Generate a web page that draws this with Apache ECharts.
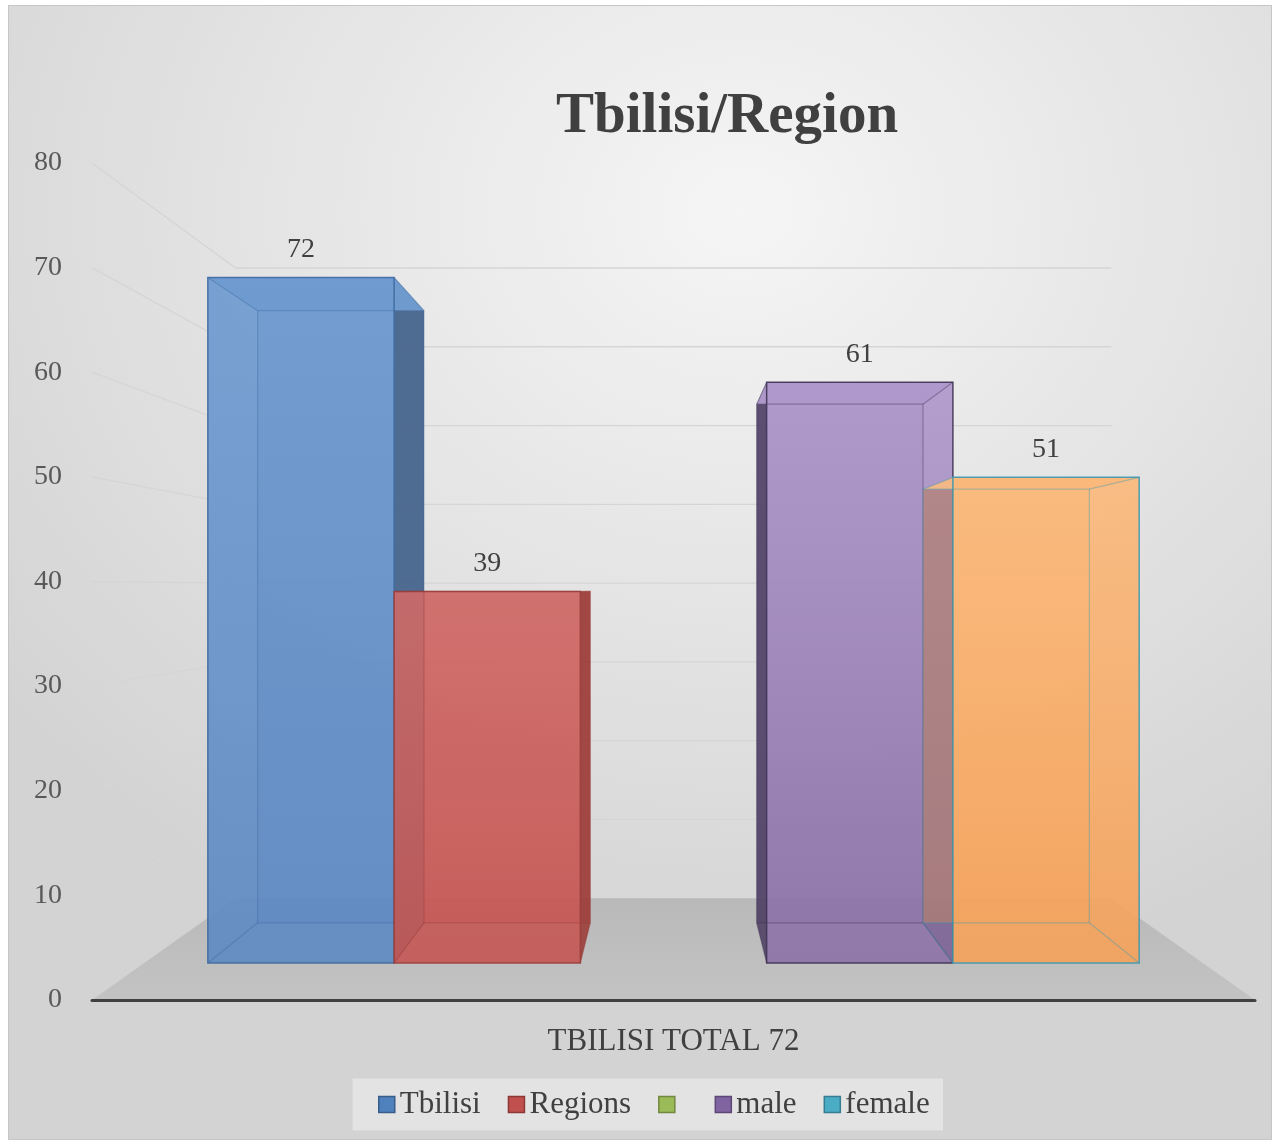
<!DOCTYPE html>
<html>
<head>
<meta charset="utf-8">
<script src="https://cdn.jsdelivr.net/npm/echarts@6/dist/echarts.min.js"></script>
<style>
    body{
        margin: 0;
        background: #ffffff;
    }
    #frame{
        position: absolute;
        left: 8px;
        top: 5px;
        width: 1262px;
        height: 1133px;
        border: 1px solid #c6c6c6;
        background: radial-gradient(ellipse 75% 70% at 58% 18%, #f5f5f5 0%, #e6e6e6 45%, #d3d3d3 100%);
    }
    #chart{
        position: absolute;
        left: 0;
        top: 0;
        width: 1280px;
        height: 1143px;
    }
</style>
</head>
<body>
<div id="frame"></div>
<div id="chart"></div>
<script>
    var categories = ['TBILISI TOTAL 72'];
    var seriesNames = ['Tbilisi', 'Regions', ' ', 'male', 'female'];
    var tbilisi = [72];
    var regions = [39];
    var blank = [];
    var male = [61];
    var female = [51];
    var yTicks = [10, 20, 30, 40, 50, 60, 70, 80];

    var seriesValues = [tbilisi, regions, blank, male, female];

    // legend colours (Excel series colours)
    var legendColors = ['#4f81bd', '#c0504d', '#9bbb59', '#8064a2', '#4bacc6'];
    var legendBorders = ['#385d8a', '#8c3836', '#71893f', '#5c4776', '#357d91'];

    // box shading per series
    var boxStyles = [
        {top: '#6d9ad0', bottom: '#5d89c2', side: '#47648c', sideOpacity: 0.92, lid: '#729fd4', edge: '#3d6a9e'},
        {top: '#d06b68', bottom: '#c45653', side: '#9c403d', sideOpacity: 0.92, lid: '#d4726f', edge: '#993d3a'},
        {top: '#a9c56f', bottom: '#93b05a', side: '#6f8a3e', sideOpacity: 0.8, lid: '#b0cc78', edge: '#71893f'},
        {top: '#ae97cb', bottom: '#8c71a7', side: '#4a3c5f', sideOpacity: 0.85, lid: '#b7a0d3', edge: '#3f3354'},
        {top: '#fbb97a', bottom: '#f5a159', side: '#4e3d60', sideOpacity: 0.22, lid: '#fbbd82', edge: '#3d98b1'}
    ];

    // perspective of the excel 3d view
    var VP_Y = 0.5078;
    var FRONT = 0.910;
    var DEPTH = 0.893;
    var WALL = 0.753;
    var SLOT = 0.176;

    function proj(vp, x, y, k) {
        return [vp[0] + (x - vp[0]) * k, vp[1] + (y - vp[1]) * k];
    }

    function vanish(cs) {
        return [cs.x + cs.width / 2, cs.y + cs.height * VP_Y];
    }

    function renderWall(params, api) {
        var cs = params.coordSys;
        var vp = vanish(cs);
        var y = api.coord([api.value(0), api.value(1)])[1];
        var a = [cs.x, y];
        var b = proj(vp, cs.x, y, WALL);
        var c = proj(vp, cs.x + cs.width, y, WALL);
        return {
            type: 'polyline',
            shape: {points: [a, b, c]},
            style: {stroke: '#d5d5d5', lineWidth: 1.3, fill: null}
        };
    }

    function renderFloor(params, api) {
        var cs = params.coordSys;
        var vp = vanish(cs);
        var y = api.coord([api.value(0), api.value(1)])[1];
        var l = cs.x, r = cs.x + cs.width;
        return {
            type: 'polygon',
            shape: {points: [[l, y], [r, y], proj(vp, r, y, WALL), proj(vp, l, y, WALL)]},
            style: {
                fill: new echarts.graphic.LinearGradient(0, 0, 0, 1, [
                    {offset: 0, color: '#b9b9b9'},
                    {offset: 1, color: '#c3c3c3'}
                ])
            }
        };
    }

    function boxRenderer(slot, st) {
        return function (params, api) {
            var cs = params.coordSys;
            var vp = vanish(cs);
            var cat = api.value(0), v = api.value(1);
            var band = api.size([1, 0])[0];
            var xc = api.coord([cat, 0])[0];
            var w = band * SLOT;
            var xl = xc - 2.5 * w + slot * w, xr = xl + w;
            var yT = api.coord([cat, v])[1], yB = api.coord([cat, 0])[1];
            var k2 = FRONT * DEPTH;
            var fTL = proj(vp, xl, yT, FRONT), fTR = proj(vp, xr, yT, FRONT);
            var fBR = proj(vp, xr, yB, FRONT), fBL = proj(vp, xl, yB, FRONT);
            var bTL = proj(vp, xl, yT, k2), bTR = proj(vp, xr, yT, k2);
            var bBR = proj(vp, xr, yB, k2), bBL = proj(vp, xl, yB, k2);
            var cx = (fTL[0] + fTR[0]) / 2;
            var children = [];
            children.push({
                type: 'polygon',
                shape: {points: [bTL, bTR, bBR, bBL]},
                style: {fill: st.bottom, opacity: 0.45}
            });
            if (cx < vp[0]) {
                children.push({
                    type: 'polygon',
                    shape: {points: [fTR, bTR, bBR, fBR]},
                    style: {fill: st.side, opacity: st.sideOpacity}
                });
            } else {
                children.push({
                    type: 'polygon',
                    shape: {points: [fTL, bTL, bBL, fBL]},
                    style: {fill: st.side, opacity: st.sideOpacity}
                });
            }
            children.push({
                type: 'polygon',
                shape: {points: [fTL, fTR, bTR, bTL]},
                style: {fill: st.lid, opacity: 0.9}
            });
            children.push({
                type: 'polygon',
                shape: {points: [fTL, fTR, fBR, fBL]},
                style: {
                    fill: new echarts.graphic.LinearGradient(0, 0, 0, 1, [
                        {offset: 0, color: st.top},
                        {offset: 1, color: st.bottom}
                    ]),
                    opacity: 0.9,
                    stroke: st.edge,
                    lineWidth: 1.5
                }
            });
            children.push({
                type: 'polyline',
                shape: {points: [bTL, bTR, bBR, bBL, bTL]},
                style: {stroke: st.edge, lineWidth: 1.2, opacity: 0.4, fill: null}
            });
            [[fTL, bTL], [fTR, bTR], [fBR, bBR], [fBL, bBL]].forEach(function (p) {
                children.push({
                    type: 'line',
                    shape: {x1: p[0][0], y1: p[0][1], x2: p[1][0], y2: p[1][1]},
                    style: {stroke: st.edge, lineWidth: 1.2, opacity: 0.4}
                });
            });
            children.push({
                type: 'text',
                style: {
                    text: String(v),
                    x: cx,
                    y: fTL[1] - 14,
                    align: 'center',
                    verticalAlign: 'bottom',
                    fontSize: 28,
                    fontFamily: 'Liberation Serif',
                    fill: '#404040'
                }
            });
            return {type: 'group', children: children};
        };
    }

    var chart = echarts.init(document.getElementById('chart'));

    var series = [
        {
            name: 'wall',
            type: 'custom',
            silent: true,
            z: 1,
            renderItem: renderWall,
            data: yTicks.map(function (t) { return [categories[0], t]; })
        },
        {
            name: 'floor',
            type: 'custom',
            silent: true,
            z: 1,
            renderItem: renderFloor,
            data: [[categories[0], 0]]
        }
    ];

    seriesNames.forEach(function (name, i) {
        series.push({
            name: name,
            type: 'custom',
            z: 3 + i,
            itemStyle: {color: legendColors[i]},
            renderItem: boxRenderer(i, boxStyles[i]),
            data: categories.map(function (c, k) {
                return seriesValues[i][k] === undefined ? null : [c, seriesValues[i][k]];
            }).filter(function (d) { return d !== null; })
        });
    });

    var option = {
        animation: false,
        backgroundColor: 'transparent',
        title: {
            text: 'Tbilisi/Region',
            left: 551,
            top: 84,
            textStyle: {
                fontFamily: 'Liberation Serif',
                fontSize: 57,
                fontWeight: 'bold',
                color: '#404040'
            }
        },
        legend: {
            left: 352,
            top: 1078,
            padding: [11, 14, 11, 26],
            itemGap: 27,
            itemWidth: 16,
            itemHeight: 16,
            icon: 'rect',
            backgroundColor: '#e3e3e3',
            borderColor: '#d2d2d2',
            borderWidth: 1,
            textStyle: {
                fontFamily: 'Liberation Serif',
                fontSize: 31,
                color: '#404040'
            },
            data: seriesNames.map(function (n, i) {
                return {name: n, itemStyle: {color: legendColors[i], borderColor: legendBorders[i], borderWidth: 1.5}};
            })
        },
        grid: {
            left: 92,
            right: 25,
            top: 163,
            bottom: 143
        },
        xAxis: {
            type: 'category',
            data: categories,
            z: 10,
            axisTick: {show: false},
            axisLine: {
                lineStyle: {color: '#404040', width: 3}
            },
            axisLabel: {
                margin: 26,
                fontFamily: 'Liberation Serif',
                fontSize: 31,
                color: '#404040'
            }
        },
        yAxis: {
            type: 'value',
            min: 0,
            max: 80,
            interval: 10,
            axisLine: {show: false},
            axisTick: {show: false},
            splitLine: {show: false},
            axisLabel: {
                margin: 30,
                fontFamily: 'Liberation Serif',
                fontSize: 28,
                color: '#595959'
            }
        },
        series: series
    };

    chart.setOption(option);
</script>
</body>
</html>
